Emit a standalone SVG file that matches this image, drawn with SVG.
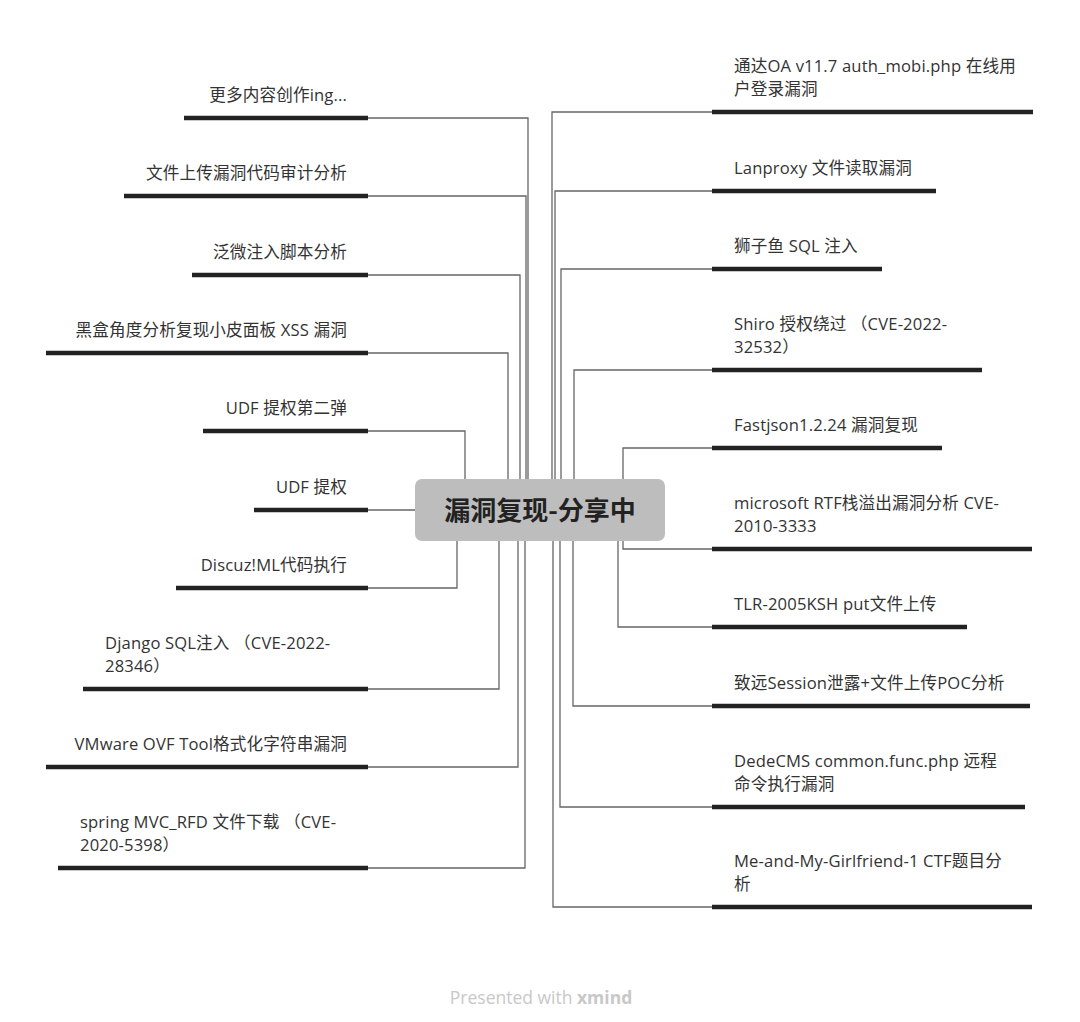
<svg xmlns="http://www.w3.org/2000/svg" width="1080" height="1022" viewBox="0 0 1080 1022">
<style>
.t{font-family:"Open Sans","Noto Sans CJK SC",sans-serif;font-size:16.6px;letter-spacing:0.15px;fill:#333}
.l{text-anchor:end}
.u{stroke:#222;stroke-width:4.5;fill:none}
.c{stroke:#666;stroke-width:1.3;fill:none}
.root{font-family:"Noto Sans CJK SC",sans-serif;font-size:26px;font-weight:bold;fill:#222;text-anchor:middle}
.ft{font-family:"Open Sans","Noto Sans",sans-serif;font-size:17.5px;fill:#c8c8c8;text-anchor:middle}
</style>
<rect width="1080" height="1022" fill="#fff"/>
<g id="connectors">
<polyline class="c" points="368,118 528,118 528,510"/>
<polyline class="c" points="368,196 526,196 526,510"/>
<polyline class="c" points="368,275 520,275 520,510"/>
<polyline class="c" points="368,353 508,353 508,510"/>
<polyline class="c" points="368,431 465,431 465,510"/>
<polyline class="c" points="368,510 420,510"/>
<polyline class="c" points="368,588 457,588 457,510"/>
<polyline class="c" points="368,689 499,689 499,510"/>
<polyline class="c" points="368,767 518,767 518,510"/>
<polyline class="c" points="368,868 525,868 525,510"/>
<polyline class="c" points="712,112 552,112 552,510"/>
<polyline class="c" points="712,191 555,191 555,510"/>
<polyline class="c" points="712,269 561,269 561,510"/>
<polyline class="c" points="712,370 574,370 574,510"/>
<polyline class="c" points="712,448 623,448 623,510"/>
<polyline class="c" points="712,549 623,549 623,510"/>
<polyline class="c" points="712,627 618,627 618,510"/>
<polyline class="c" points="712,706 573,706 573,510"/>
<polyline class="c" points="712,807 560,807 560,510"/>
<polyline class="c" points="712,907 553,907 553,510"/>
</g>
<g id="root">
<rect x="415" y="479" width="250" height="62" rx="7" fill="#bdbdbd"/>
<text class="root" x="540" y="520">漏洞复现-分享中</text>
</g>
<g id="n-l1"><text class="t l" x="347" y="101">更多内容创作ing...</text><line class="u" x1="184" y1="118" x2="368" y2="118"/></g>
<g id="n-l2"><text class="t l" x="347" y="179">文件上传漏洞代码审计分析</text><line class="u" x1="124" y1="196" x2="368" y2="196"/></g>
<g id="n-l3"><text class="t l" x="347" y="258">泛微注入脚本分析</text><line class="u" x1="192" y1="275" x2="368" y2="275"/></g>
<g id="n-l4"><text class="t l" x="347" y="336">黑盒角度分析复现小皮面板 XSS 漏洞</text><line class="u" x1="46" y1="353" x2="368" y2="353"/></g>
<g id="n-l5"><text class="t l" x="347" y="414">UDF 提权第二弹</text><line class="u" x1="203" y1="431" x2="368" y2="431"/></g>
<g id="n-l6"><text class="t l" x="347" y="493">UDF 提权</text><line class="u" x1="254" y1="510" x2="368" y2="510"/></g>
<g id="n-l7"><text class="t l" x="347" y="571">Discuz!ML代码执行</text><line class="u" x1="176" y1="588" x2="368" y2="588"/></g>
<g id="n-l8"><text class="t" x="105" y="649">Django SQL注入 （CVE-2022-</text><text class="t" x="105" y="672">28346）</text><line class="u" x1="83" y1="689" x2="368" y2="689"/></g>
<g id="n-l9"><text class="t l" x="347" y="750">VMware OVF Tool格式化字符串漏洞</text><line class="u" x1="46" y1="767" x2="368" y2="767"/></g>
<g id="n-l10"><text class="t" x="80" y="828">spring MVC_RFD 文件下载 （CVE-</text><text class="t" x="80" y="851">2020-5398）</text><line class="u" x1="58" y1="868" x2="368" y2="868"/></g>
<g id="n-r1"><text class="t" x="734" y="72">通达OA v11.7 auth_mobi.php 在线用</text><text class="t" x="734" y="95">户登录漏洞</text><line class="u" x1="712" y1="112" x2="1033" y2="112"/></g>
<g id="n-r2"><text class="t" x="734" y="174">Lanproxy 文件读取漏洞</text><line class="u" x1="712" y1="191" x2="936" y2="191"/></g>
<g id="n-r3"><text class="t" x="734" y="252">狮子鱼 SQL 注入</text><line class="u" x1="712" y1="269" x2="882" y2="269"/></g>
<g id="n-r4"><text class="t" x="734" y="330">Shiro 授权绕过 （CVE-2022-</text><text class="t" x="734" y="353">32532）</text><line class="u" x1="712" y1="370" x2="982" y2="370"/></g>
<g id="n-r5"><text class="t" x="734" y="431">Fastjson1.2.24 漏洞复现</text><line class="u" x1="712" y1="448" x2="942" y2="448"/></g>
<g id="n-r6"><text class="t" x="734" y="509">microsoft RTF栈溢出漏洞分析 CVE-</text><text class="t" x="734" y="532">2010-3333</text><line class="u" x1="712" y1="549" x2="1032" y2="549"/></g>
<g id="n-r7"><text class="t" x="734" y="610">TLR-2005KSH put文件上传</text><line class="u" x1="712" y1="627" x2="967" y2="627"/></g>
<g id="n-r8"><text class="t" x="734" y="689">致远Session泄露+文件上传POC分析</text><line class="u" x1="712" y1="706" x2="1030" y2="706"/></g>
<g id="n-r9"><text class="t" x="734" y="767">DedeCMS common.func.php 远程</text><text class="t" x="734" y="790">命令执行漏洞</text><line class="u" x1="712" y1="807" x2="1025" y2="807"/></g>
<g id="n-r10"><text class="t" x="734" y="867">Me-and-My-Girlfriend-1 CTF题目分</text><text class="t" x="734" y="890">析</text><line class="u" x1="712" y1="907" x2="1032" y2="907"/></g>
<g id="footer"><text class="ft" x="541" y="1004">Presented with <tspan font-weight="bold">xmind</tspan></text></g>
</svg>
